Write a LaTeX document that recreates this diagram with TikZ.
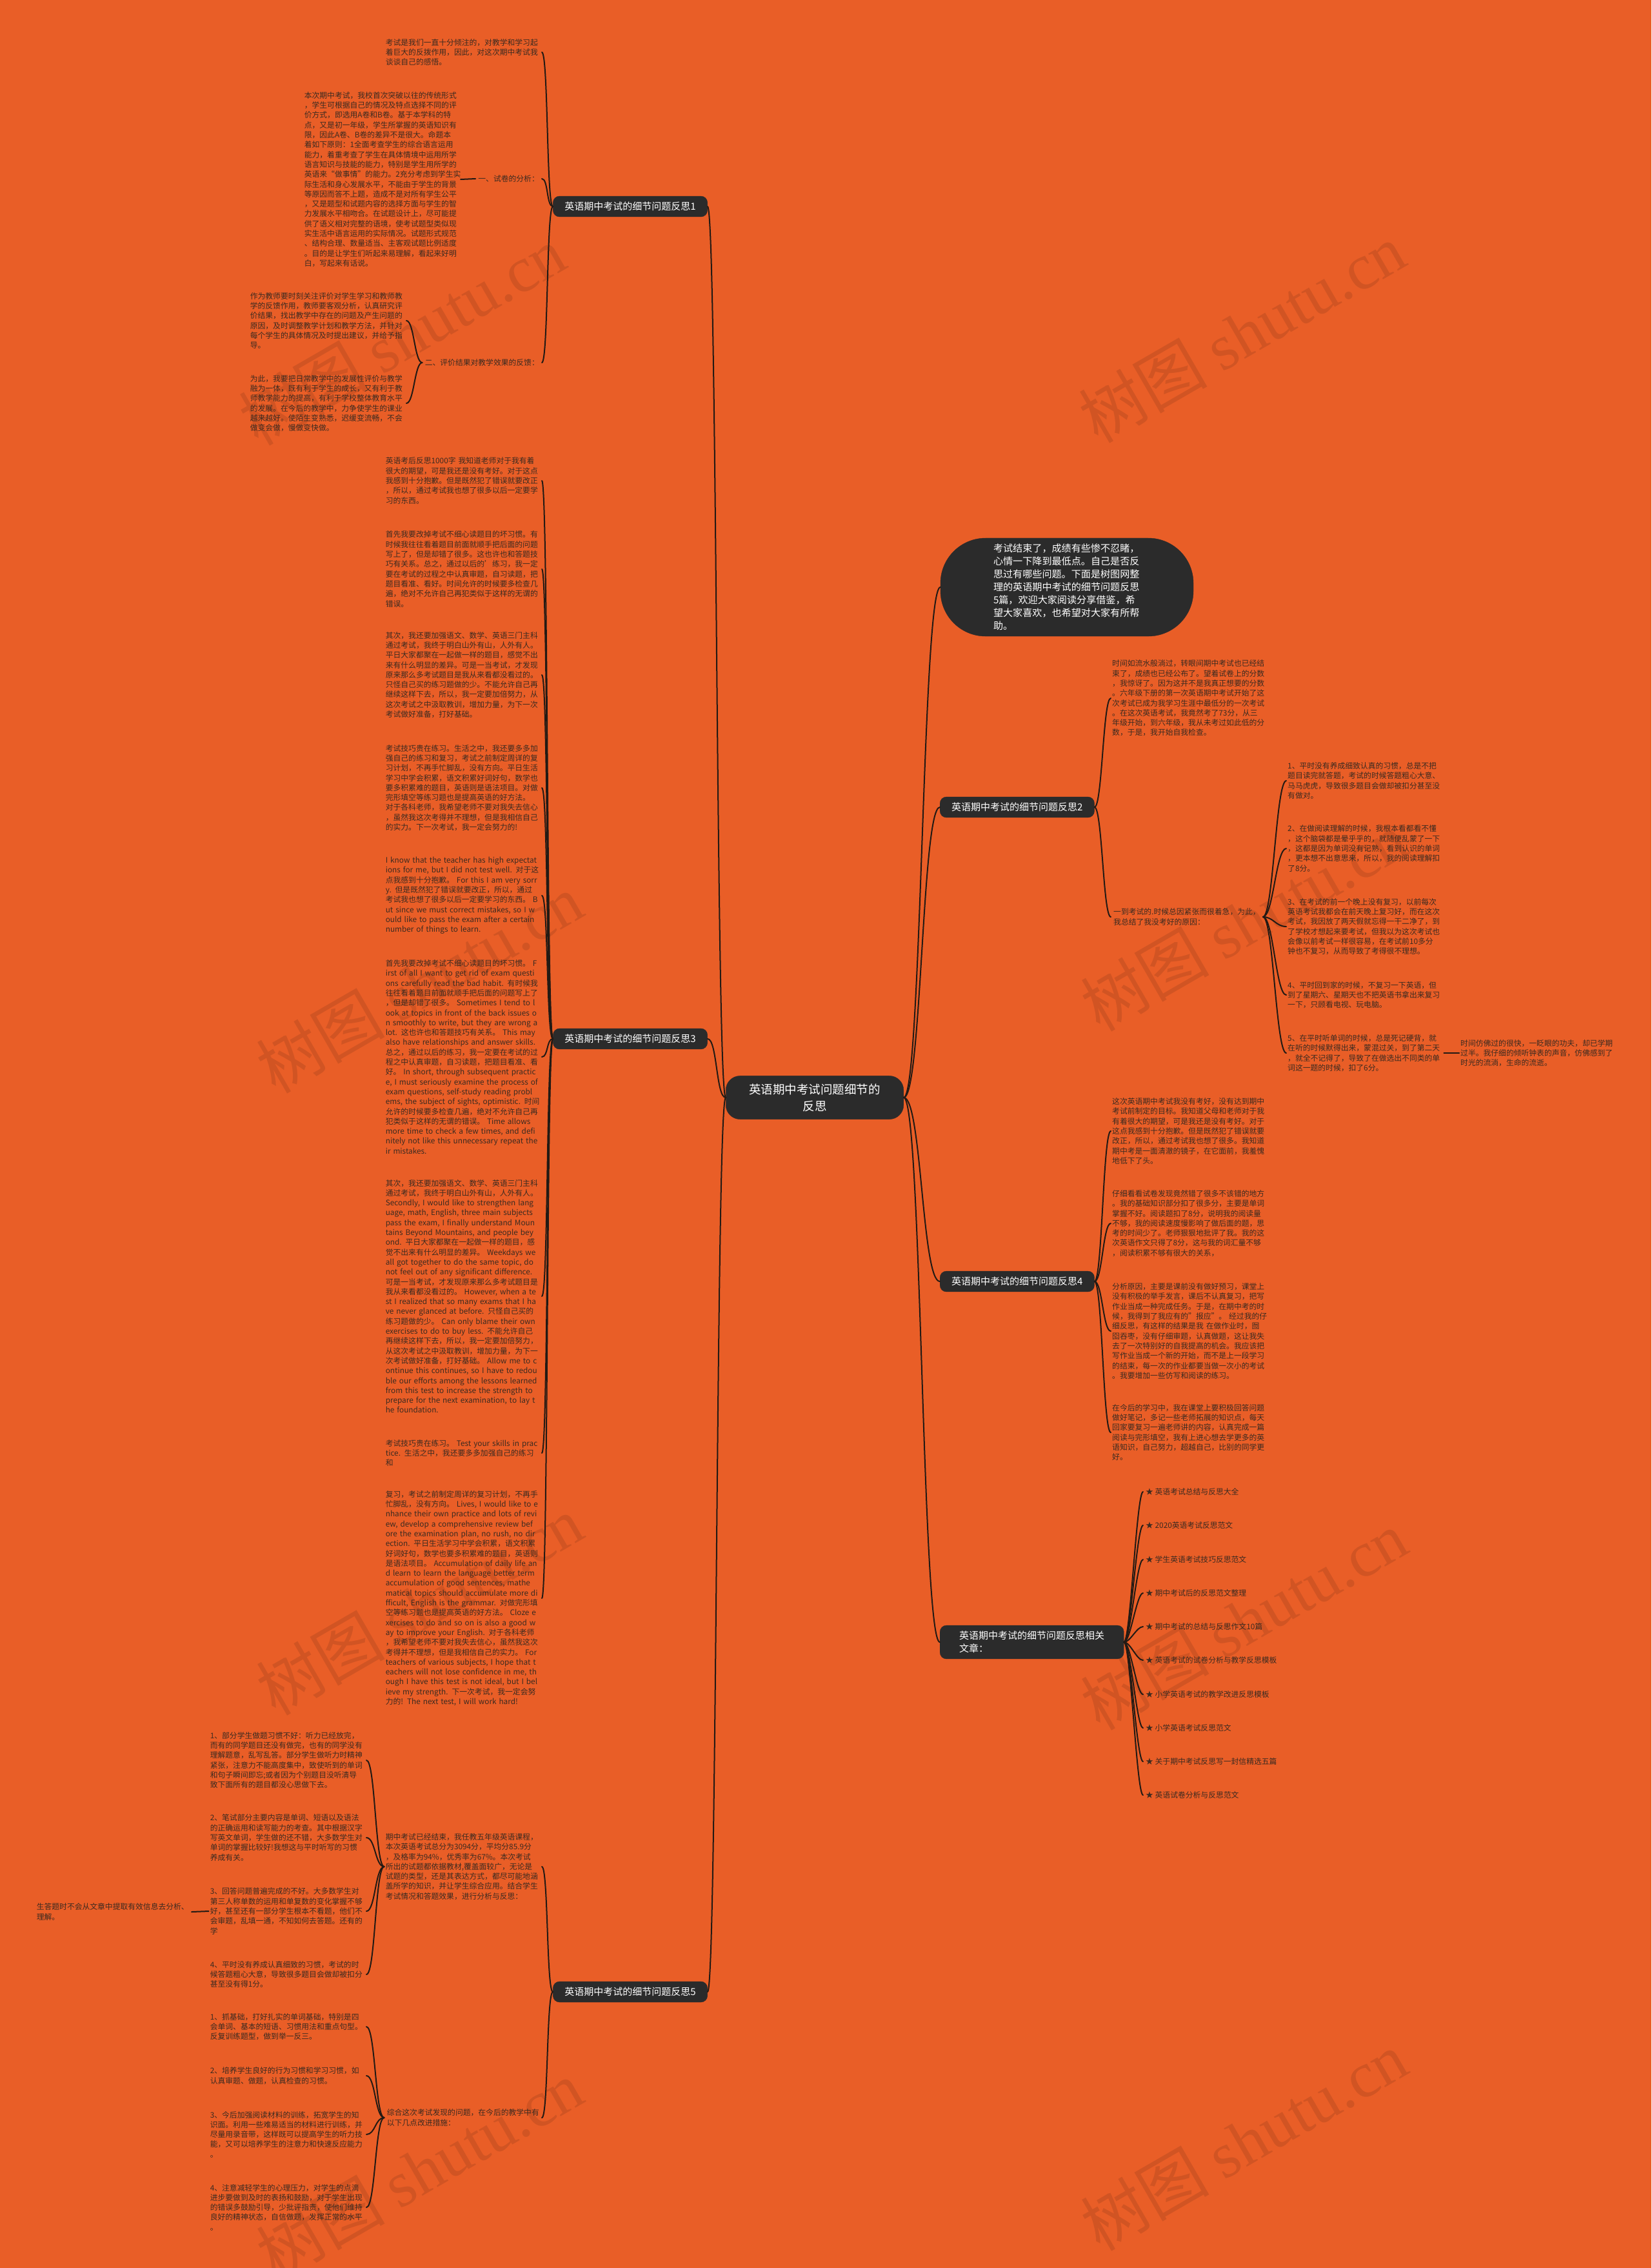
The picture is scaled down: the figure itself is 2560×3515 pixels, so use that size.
\documentclass[tikz,border=0pt]{standalone}
\usepackage{fontspec}
\setmainfont{Noto Sans CJK SC}
\newfontfamily\wmfont{Liberation Serif}
\usetikzlibrary{positioning}
\definecolor{bgorange}{HTML}{E95E27}
\definecolor{nodedark}{HTML}{2B2B2B}
\definecolor{inkbrown}{HTML}{3A2A20}
\definecolor{linkdark}{HTML}{231A14}
\tikzset{
  % root, first level and the intro bubble
  hub/.style={fill=nodedark, draw=nodedark, rounded corners=22pt, text=white, align=center,
    font=\fontsize{18.5}{26}\selectfont, inner xsep=36pt, inner ysep=12pt},
  topic/.style={fill=nodedark, draw=nodedark, rounded corners=10pt, text=white, align=left,
    font=\fontsize{15}{20}\selectfont, inner xsep=18pt, inner ysep=9pt},
  bubble/.style={fill=nodedark, draw=nodedark, rounded corners=70pt, text=white, align=left,
    text width=228pt, font=\fontsize{15.1}{20}\selectfont, inner xsep=82pt, inner ysep=9pt},
  % leaves
  para/.style={text=inkbrown, text width=240pt, align=left, inner xsep=2pt, inner ysep=3pt,
    font=\fontsize{11.8}{15.3}\selectfont},
  lead/.style={text=inkbrown, align=left, inner xsep=4pt, inner ysep=3pt,
    font=\fontsize{11.8}{15.3}\selectfont},
  related/.style={lead, anchor=west},
  % connectors
  link/.style={draw=linkdark, line width=2pt, line cap=round},
  wm/.style={text=black, opacity=0.1, rotate=30, font=\fontsize{100}{100}\selectfont},
}

\begin{document}
\begin{tikzpicture}[x=1pt, y=-1pt]
  \useasboundingbox (0,0) rectangle (2560,3515);
  \fill[bgorange] (0,0) rectangle (2560,3515);

  % watermarks
  \node[wm] (w1) at (623,520) {树图 {\wmfont shutu.cn}};
  \node[wm] (w2) at (1925,516) {树图 {\wmfont shutu.cn}};
  \node[wm] (w3) at (650,1524) {树图 {\wmfont shutu.cn}};
  \node[wm] (w4) at (1928,1428) {树图 {\wmfont shutu.cn}};
  \node[wm] (w5) at (650,2488) {树图 {\wmfont shutu.cn}};
  \node[wm] (w6) at (1928,2511) {树图 {\wmfont shutu.cn}};
  \node[wm] (w7) at (650,3363) {树图 {\wmfont shutu.cn}};
  \node[wm] (w8) at (1928,3318) {树图 {\wmfont shutu.cn}};

  \node[hub] (c) at (1263,1701) {英语期中考试问题细节的\\反思};

  \node[topic] (b1) at (977,320) {英语期中考试的细节问题反思1};
  \node[topic] (b3) at (977,1610) {英语期中考试的细节问题反思3};
  \node[topic] (b5) at (977,3087) {英语期中考试的细节问题反思5};
  \node[bubble] (n) at (1654,910) {考试结束了，成绩有些惨不忍睹，\\心情一下降到最低点。自己是否反\\思过有哪些问题。下面是树图网整\\理的英语期中考试的细节问题反思\\5篇，欢迎大家阅读分享借鉴，希\\望大家喜欢，也希望对大家有所帮\\助。};
  \node[topic, anchor=west] (b2) at (1457,1251) {英语期中考试的细节问题反思2};
  \node[topic, anchor=west] (b4) at (1457,1986) {英语期中考试的细节问题反思4};
  \node[topic, anchor=west, inner xsep=30pt] (r) at (1457,2545) {英语期中考试的细节问题反思相关\\文章：};

  \draw[link] (c.west) .. controls +(-15,0) and +(15,0) .. (b1.east);
  \draw[link] (c.west) .. controls +(-15,0) and +(15,0) .. (b3.east);
  \draw[link] (c.west) .. controls +(-15,0) and +(15,0) .. (b5.east);
  \draw[link] (c.east) .. controls +(28,0) and +(-28,0) .. (n.west);
  \draw[link] (c.east) .. controls +(28,0) and +(-28,0) .. (b2.west);
  \draw[link] (c.east) .. controls +(28,0) and +(-28,0) .. (b4.west);
  \draw[link] (c.east) .. controls +(28,0) and +(-28,0) .. (r.west);

  % reflection 1
  \node[para, anchor=east] (p1a) at (840,81) {考试是我们一直十分倾注的，对教学和学习起\\着巨大的反拨作用，因此，对这次期中考试我\\谈谈自己的感悟。};
  \node[lead, anchor=east] (l1a) at (840,277) {一、试卷的分析：};
  \node[para, anchor=east] (p1b) at (714,278) {本次期中考试，我校首次突破以往的传统形式\\，学生可根据自己的情况及特点选择不同的评\\价方式，即选用A卷和B卷。基于本学科的特\\点，又是初一年级，学生所掌握的英语知识有\\限，因此A卷、B卷的差异不是很大。命题本\\着如下原则：1全面考查学生的综合语言运用\\能力，着重考查了学生在具体情境中运用所学\\语言知识与技能的能力，特别是学生用所学的\\英语来“做事情”的能力。2充分考虑到学生实\\际生活和身心发展水平，不能由于学生的背景\\等原因而答不上题，造成不是对所有学生公平\\，又是题型和试题内容的选择方面与学生的智\\力发展水平相吻合。在试题设计上，尽可能提\\供了语义相对完整的语境，使考试题型类似现\\实生活中语言运用的实际情况。试题形式规范\\、结构合理、数量适当、主客观试题比例适度\\。目的是让学生们听起来易理解，看起来好明\\白，写起来有话说。};
  \node[lead, anchor=east] (l1b) at (840,562) {二、评价结果对教学效果的反馈：};
  \node[para, anchor=east] (p1c) at (630,497) {作为教师要时刻关注评价对学生学习和教师教\\学的反馈作用，教师要客观分析，认真研究评\\价结果，找出教学中存在的问题及产生问题的\\原因，及时调整教学计划和教学方法，并针对\\每个学生的具体情况及时提出建议，并给予指\\导。};
  \node[para, anchor=east] (p1d) at (630,625) {为此，我要把日常教学中的发展性评价与教学\\融为一体，既有利于学生的成长，又有利于教\\师教学能力的提高，有利于学校整体教育水平\\的发展。在今后的教学中，力争使学生的课业\\越来越好。使陌生变熟悉，迟缓变流畅，不会\\做变会做，慢做变快做。};

  \draw[link] (b1.west) .. controls +(-10,0) and +(10,0) .. (p1a.east);
  \draw[link] (b1.west) .. controls +(-10,0) and +(10,0) .. (l1a.east);
  \draw[link] (b1.west) .. controls +(-10,0) and +(10,0) .. (l1b.east);
  \draw[link] (l1a.west) -- (p1b.east);
  \draw[link] (l1b.west) .. controls +(-12,0) and +(12,0) .. (p1c.east);
  \draw[link] (l1b.west) .. controls +(-12,0) and +(12,0) .. (p1d.east);

  % reflection 2
  \node[para, anchor=west] (p2a) at (1722,1082) {时间如流水般淌过，转眼间期中考试也已经结\\束了，成绩也已经公布了。望着试卷上的分数\\，我惊讶了。因为这并不是我真正想要的分数\\。六年级下册的第一次英语期中考试开始了这\\次考试已成为我学习生涯中最低分的一次考试\\。在这次英语考试，我竟然考了73分，从三\\年级开始，到六年级，我从未考过如此低的分\\数，于是，我开始自我检查。};
  \node[lead, anchor=west] (l2) at (1722,1421) {一到考试的.时候总因紧张而很着急，为此，\\我总结了我没考好的原因：};
  \node[para, anchor=west] (i1) at (1994,1210) {1、平时没有养成细致认真的习惯，总是不把\\题目读完就答题，考试的时候答题粗心大意、\\马马虎虎，导致很多题目会做却被扣分甚至没\\有做对。};
  \node[para, anchor=west] (i2) at (1994,1315) {2、在做阅读理解的时候，我根本看都看不懂\\，这个脑袋都是晕乎乎的，就随便乱蒙了一下\\，这都是因为单词没有记熟，看到认识的单词\\，更本想不出意思来，所以，我的阅读理解扣\\了8分。};
  \node[para, anchor=west] (i3) at (1994,1436) {3、在考试的前一个晚上没有复习，以前每次\\英语考试我都会在前天晚上复习好，而在这次\\考试，我因放了两天假就忘得一干二净了，到\\了学校才想起来要考试，但我以为这次考试也\\会像以前考试一样很容易，在考试前10多分\\钟也不复习，从而导致了考得很不理想。};
  \node[para, anchor=west] (i4) at (1994,1542) {4、平时回到家的时候，不复习一下英语，但\\到了星期六、星期天也不把英语书拿出来复习\\一下，只顾看电视、玩电脑。};
  \node[para, anchor=west] (i5) at (1994,1632) {5、在平时听单词的时候，总是死记硬背，就\\在听的时候默得出来，蒙混过关，到了第二天\\，就全不记得了，导致了在做选出不同类的单\\词这一题的时候，扣了6分。};
  \node[para, anchor=west] (s2) at (2262,1632) {时间仿佛过的很快，一眨眼的功夫，却已学期\\过半。我仔细的倾听钟表的声音，仿佛感到了\\时光的流淌，生命的流逝。};

  \draw[link] (b2.east) .. controls +(12,0) and +(-12,0) .. (p2a.west);
  \draw[link] (b2.east) .. controls +(12,0) and +(-12,0) .. (l2.west);
  \draw[link] (l2.east) .. controls +(16,0) and +(-16,0) .. (i1.west);
  \draw[link] (l2.east) .. controls +(16,0) and +(-16,0) .. (i2.west);
  \draw[link] (l2.east) .. controls +(16,0) and +(-16,0) .. (i3.west);
  \draw[link] (l2.east) .. controls +(16,0) and +(-16,0) .. (i4.west);
  \draw[link] (l2.east) .. controls +(16,0) and +(-16,0) .. (i5.west);
  \draw[link] (i5.east) -- (s2.west);

  % reflection 3
  \node[para, anchor=east] (p3a) at (840,745) {英语考后反思1000字 我知道老师对于我有着\\很大的期望，可是我还是没有考好。对于这点\\我感到十分抱歉。但是既然犯了错误就要改正\\，所以，通过考试我也想了很多以后一定要学\\习的东西。};
  \node[para, anchor=east] (p3b) at (840,882) {首先我要改掉考试不细心读题目的坏习惯。有\\时候我往往看着题目前面就顺手把后面的问题\\写上了，但是却错了很多。这也许也和答题技\\巧有关系。总之，通过以后的'练习，我一定\\要在考试的过程之中认真审题，自习读题，把\\题目看准、看好。时间允许的时候要多检查几\\遍，绝对不允许自己再犯类似于这样的无谓的\\错误。};
  \node[para, anchor=east] (p3c) at (840,1046) {其次，我还要加强语文、数学、英语三门主科\\通过考试，我终于明白山外有山，人外有人。\\平日大家都聚在一起做一样的题目，感觉不出\\来有什么明显的差异。可是一当考试，才发现\\原来那么多考试题目是我从来看都没看过的。\\只怪自己买的练习题做的少。不能允许自己再\\继续这样下去，所以，我一定要加倍努力，从\\这次考试之中汲取教训，增加力量，为下一次\\考试做好准备，打好基础。};
  \node[para, anchor=east] (p3d) at (840,1221) {考试技巧贵在练习。生活之中，我还要多多加\\强自己的练习和复习，考试之前制定周详的复\\习计划，不再手忙脚乱，没有方向。平日生活\\学习中学会积累，语文积累好词好句，数学也\\要多积累难的题目，英语则是语法项目。对做\\完形填空等练习题也是提高英语的好方法。\\对于各科老师，我希望老师不要对我失去信心\\，虽然我这次考得并不理想，但是我相信自己\\的实力。下一次考试，我一定会努力的!};
  \node[para, anchor=east] (p3e) at (840,1388) {I know that the teacher has high expectat\\ions for me, but I did not test well. 对于这\\点我感到十分抱歉。 For this I am very sorr\\y. 但是既然犯了错误就要改正，所以，通过\\考试我也想了很多以后一定要学习的东西。 B\\ut since we must correct mistakes, so I w\\ould like to pass the exam after a certain\\number of things to learn.};
  \node[para, anchor=east] (p3f) at (840,1638) {首先我要改掉考试不细心读题目的坏习惯。 F\\irst of all I want to get rid of exam questi\\ons carefully read the bad habit. 有时候我\\往往看着题目前面就顺手把后面的问题写上了\\，但是却错了很多。 Sometimes I tend to l\\ook at topics in front of the back issues o\\n smoothly to write, but they are wrong a\\lot. 这也许也和答题技巧有关系。 This may\\also have relationships and answer skills.\\总之，通过以后的练习，我一定要在考试的过\\程之中认真审题，自习读题，把题目看准、看\\好。 In short, through subsequent practic\\e, I must seriously examine the process of\\exam questions, self-study reading probl\\ems, the subject of sights, optimistic. 时间\\允许的时候要多检查几遍，绝对不允许自己再\\犯类似于这样的无谓的错误。 Time allows\\more time to check a few times, and defi\\nitely not like this unnecessary repeat the\\ir mistakes.};
  \node[para, anchor=east] (p3g) at (840,2009) {其次，我还要加强语文、数学、英语三门主科\\通过考试，我终于明白山外有山，人外有人。\\Secondly, I would like to strengthen lang\\uage, math, English, three main subjects\\pass the exam, I finally understand Moun\\tains Beyond Mountains, and people bey\\ond. 平日大家都聚在一起做一样的题目，感\\觉不出来有什么明显的差异。 Weekdays we\\all got together to do the same topic, do\\not feel out of any significant difference.\\可是一当考试，才发现原来那么多考试题目是\\我从来看都没看过的。 However, when a te\\st I realized that so many exams that I ha\\ve never glanced at before. 只怪自己买的\\练习题做的少。 Can only blame their own\\exercises to do to buy less. 不能允许自己\\再继续这样下去，所以，我一定要加倍努力，\\从这次考试之中汲取教训，增加力量，为下一\\次考试做好准备，打好基础。 Allow me to c\\ontinue this continues, so I have to redou\\ble our efforts among the lessons learned\\from this test to increase the strength to\\prepare for the next examination, to lay t\\he foundation.};
  \node[para, anchor=east] (p3h) at (840,2252) {考试技巧贵在练习。 Test your skills in prac\\tice. 生活之中，我还要多多加强自己的练习\\和};
  \node[para, anchor=east] (p3i) at (840,2477) {复习，考试之前制定周详的复习计划，不再手\\忙脚乱，没有方向。 Lives, I would like to e\\nhance their own practice and lots of revi\\ew, develop a comprehensive review bef\\ore the examination plan, no rush, no dir\\ection. 平日生活学习中学会积累，语文积累\\好词好句，数学也要多积累难的题目，英语则\\是语法项目。 Accumulation of daily life an\\d learn to learn the language better term\\accumulation of good sentences, mathe\\matical topics should accumulate more di\\fficult, English is the grammar. 对做完形填\\空等练习题也是提高英语的好方法。 Cloze e\\xercises to do and so on is also a good w\\ay to improve your English. 对于各科老师\\，我希望老师不要对我失去信心，虽然我这次\\考得并不理想，但是我相信自己的实力。 For\\teachers of various subjects, I hope that t\\eachers will not lose confidence in me, th\\ough I have this test is not ideal, but I bel\\ieve my strength. 下一次考试，我一定会努\\力的! The next test, I will work hard!};

  \draw[link] (b3.west) .. controls +(-10,0) and +(10,0) .. (p3a.east);
  \draw[link] (b3.west) .. controls +(-10,0) and +(10,0) .. (p3b.east);
  \draw[link] (b3.west) .. controls +(-10,0) and +(10,0) .. (p3c.east);
  \draw[link] (b3.west) .. controls +(-10,0) and +(10,0) .. (p3d.east);
  \draw[link] (b3.west) .. controls +(-10,0) and +(10,0) .. (p3e.east);
  \draw[link] (b3.west) .. controls +(-10,0) and +(10,0) .. (p3f.east);
  \draw[link] (b3.west) .. controls +(-10,0) and +(10,0) .. (p3g.east);
  \draw[link] (b3.west) .. controls +(-10,0) and +(10,0) .. (p3h.east);
  \draw[link] (b3.west) .. controls +(-10,0) and +(10,0) .. (p3i.east);

  % reflection 4
  \node[para, anchor=west] (p4a) at (1722,1753) {这次英语期中考试我没有考好，没有达到期中\\考试前制定的目标。我知道父母和老师对于我\\有着很大的期望，可是我还是没有考好。对于\\这点我感到十分抱歉。但是既然犯了错误就要\\改正，所以，通过考试我也想了很多。我知道\\期中考是一面清澈的镜子，在它面前，我羞愧\\地低下了头。};
  \node[para, anchor=west] (p4b) at (1722,1896) {仔细看看试卷发现竟然错了很多不该错的地方\\。我的基础知识部分扣了很多分，主要是单词\\掌握不好。阅读题扣了8分，说明我的阅读量\\不够，我的阅读速度慢影响了做后面的题，思\\考的时间少了。老师狠狠地批评了我。我的这\\次英语作文只得了8分，这与我的词汇量不够\\，阅读积累不够有很大的关系，};
  \node[para, anchor=west] (p4c) at (1722,2063) {分析原因，主要是课前没有做好预习，课堂上\\没有积极的举手发言，课后不认真复习，把写\\作业当成一种完成任务。于是，在期中考的时\\候，我得到了我应有的"报应"。 经过我的仔\\细反思，有这样的结果是我 在做作业时，囫\\囵吞枣，没有仔细审题，认真做题，这让我失\\去了一次特别好的自我提高的机会。我应该把\\写作业当成一个新的开始，而不是上一段学习\\的结束，每一次的作业都要当做一次小的考试\\。我要增加一些仿写和阅读的练习。};
  \node[para, anchor=west] (p4d) at (1722,2220) {在今后的学习中，我在课堂上要积极回答问题\\做好笔记，多记一些老师拓展的知识点，每天\\回家要复习一遍老师讲的内容，认真完成一篇\\阅读与完形填空，我有上进心想去学更多的英\\语知识，自己努力，超越自己，比别的同学更\\好。};

  \draw[link] (b4.east) .. controls +(12,0) and +(-12,0) .. (p4a.west);
  \draw[link] (b4.east) .. controls +(12,0) and +(-12,0) .. (p4b.west);
  \draw[link] (b4.east) .. controls +(12,0) and +(-12,0) .. (p4c.west);
  \draw[link] (b4.east) .. controls +(12,0) and +(-12,0) .. (p4d.west);

  % related articles
  \node[related] (a1) at (1772,2312) {★ 英语考试总结与反思大全};
  \node[related] (a2) at (1772,2364) {★ 2020英语考试反思范文};
  \node[related] (a3) at (1772,2417) {★ 学生英语考试技巧反思范文};
  \node[related] (a4) at (1772,2469) {★ 期中考试后的反思范文整理};
  \node[related] (a5) at (1772,2521) {★ 期中考试的总结与反思作文10篇};
  \node[related] (a6) at (1772,2573) {★ 英语考试的试卷分析与教学反思模板};
  \node[related] (a7) at (1772,2626) {★ 小学英语考试的教学改进反思模板};
  \node[related] (a8) at (1772,2678) {★ 小学英语考试反思范文};
  \node[related] (a9) at (1772,2730) {★ 关于期中考试反思写一封信精选五篇};
  \node[related] (a10) at (1772,2782) {★ 英语试卷分析与反思范文};

  \draw[link] (r.east) .. controls +(10,0) and +(-10,0) .. (a1.west);
  \draw[link] (r.east) .. controls +(10,0) and +(-10,0) .. (a2.west);
  \draw[link] (r.east) .. controls +(10,0) and +(-10,0) .. (a3.west);
  \draw[link] (r.east) .. controls +(10,0) and +(-10,0) .. (a4.west);
  \draw[link] (r.east) .. controls +(10,0) and +(-10,0) .. (a5.west);
  \draw[link] (r.east) .. controls +(10,0) and +(-10,0) .. (a6.west);
  \draw[link] (r.east) .. controls +(10,0) and +(-10,0) .. (a7.west);
  \draw[link] (r.east) .. controls +(10,0) and +(-10,0) .. (a8.west);
  \draw[link] (r.east) .. controls +(10,0) and +(-10,0) .. (a9.west);
  \draw[link] (r.east) .. controls +(10,0) and +(-10,0) .. (a10.west);

  % reflection 5
  \node[para, anchor=east] (p5a) at (840,2893) {期中考试已经结束，我任教五年级英语课程，\\本次英语考试总分为3094分，平均分85.9分\\，及格率为94\%，优秀率为67\%。本次考试\\所出的试题都依据教材,覆盖面较广，无论是\\试题的类型，还是其表达方式，都尽可能地涵\\盖所学的知识，并让学生综合应用。结合学生\\考试情况和答题效果，进行分析与反思：};
  \node[lead, anchor=east] (p5b) at (840,3282) {综合这次考试发现的问题，在今后的教学中有\\以下几点改进措施：};
  \node[para, anchor=east] (q1) at (568,2728) {1、部分学生做题习惯不好：听力已经放完，\\而有的同学题目还没有做完，也有的同学没有\\理解题意，乱写乱答。部分学生做听力时精神\\紧张，注意力不能高度集中，致使听到的单词\\和句子瞬间即忘;或者因为个别题目没听清导\\致下面所有的题目都没心思做下去。};
  \node[para, anchor=east] (q2) at (568,2848) {2、笔试部分主要内容是单词、短语以及语法\\的正确运用和读写能力的考查。其中根据汉字\\写英文单词，学生做的还不错，大多数学生对\\单词的掌握比较好!我想这与平时听写的习惯\\养成有关。};
  \node[para, anchor=east] (q3) at (568,2962) {3、回答问题普遍完成的不好。大多数学生对\\第三人称单数的运用和单复数的变化掌握不够\\好，甚至还有一部分学生根本不看题，他们不\\会审题，乱填一通，不知如何去答题。还有的\\学};
  \node[para, anchor=east] (q4) at (568,3060) {4、平时没有养成认真细致的习惯，考试的时\\候答题粗心大意，导致很多题目会做却被扣分\\甚至没有得1分。};
  \node[lead, anchor=east] (q3x) at (297,2963) {生答题时不会从文章中提取有效信息去分析、\\理解。};
  \node[para, anchor=east] (m1) at (568,3141) {1、抓基础，打好扎实的单词基础，特别是四\\会单词、基本的短语、习惯用法和重点句型。\\反复训练题型，做到举一反三。};
  \node[para, anchor=east] (m2) at (568,3217) {2、培养学生良好的行为习惯和学习习惯，如\\认真审题、做题，认真检查的习惯。};
  \node[para, anchor=east] (m3) at (568,3308) {3、今后加强阅读材料的训练，拓宽学生的知\\识面。利用一些难易适当的材料进行训练，并\\尽量用录音带，这样既可以提高学生的听力技\\能，又可以培养学生的注意力和快速反应能力\\。};
  \node[para, anchor=east] (m4) at (568,3421) {4、注意减轻学生的心理压力，对学生的点滴\\进步要做到及时的表扬和鼓励，对于学生出现\\的错误多鼓励引导，少批评指责，使他们维持\\良好的精神状态，自信做题，发挥正常的水平\\。};

  \draw[link] (b5.west) .. controls +(-10,0) and +(10,0) .. (p5a.east);
  \draw[link] (b5.west) .. controls +(-10,0) and +(10,0) .. (p5b.east);
  \draw[link] (p5a.west) .. controls +(-14,0) and +(14,0) .. (q1.east);
  \draw[link] (p5a.west) .. controls +(-14,0) and +(14,0) .. (q2.east);
  \draw[link] (p5a.west) .. controls +(-14,0) and +(14,0) .. (q3.east);
  \draw[link] (p5a.west) .. controls +(-14,0) and +(14,0) .. (q4.east);
  \draw[link] (q3.west) -- (q3x.east);
  \draw[link] (p5b.west) .. controls +(-14,0) and +(14,0) .. (m1.east);
  \draw[link] (p5b.west) .. controls +(-14,0) and +(14,0) .. (m2.east);
  \draw[link] (p5b.west) .. controls +(-14,0) and +(14,0) .. (m3.east);
  \draw[link] (p5b.west) .. controls +(-14,0) and +(14,0) .. (m4.east);
\end{tikzpicture}
\end{document}
